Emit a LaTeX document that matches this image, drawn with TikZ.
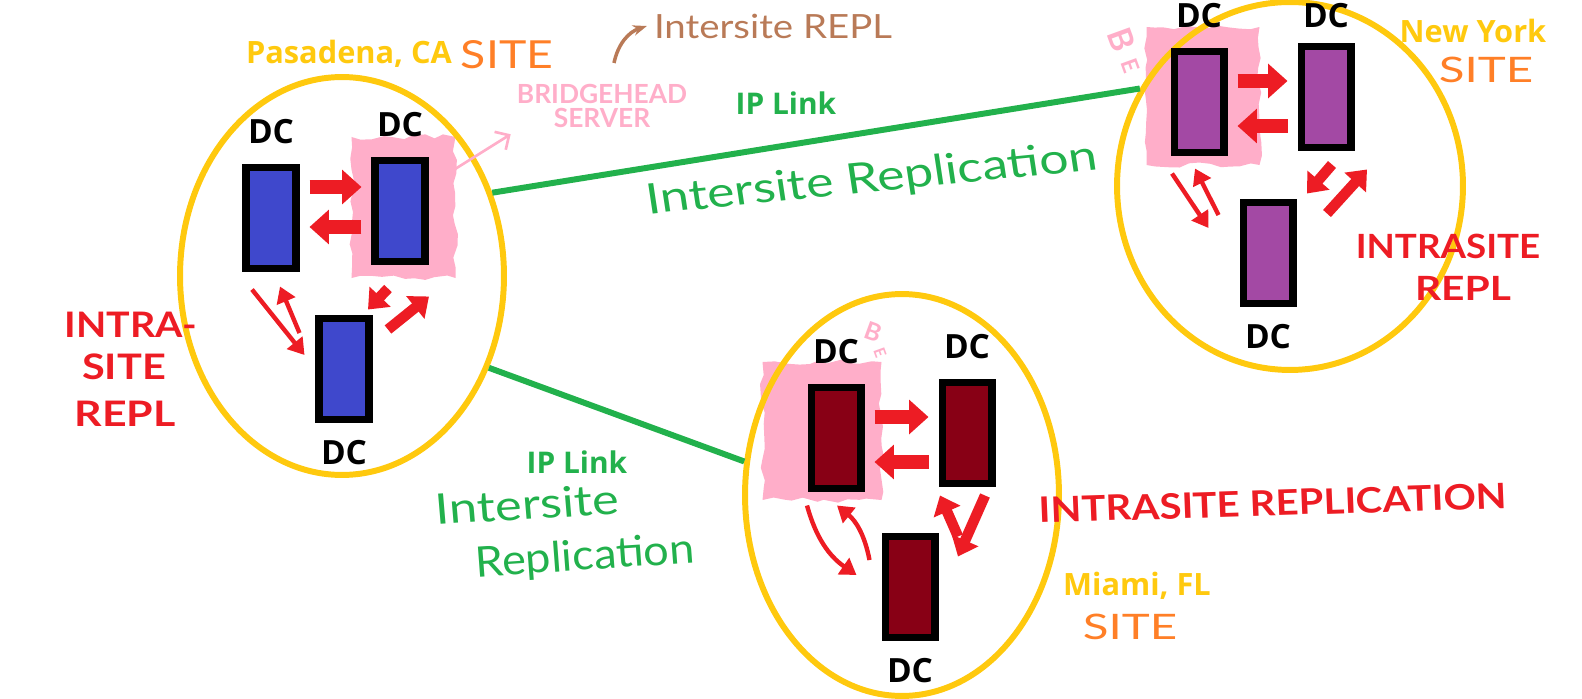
\documentclass[tikz,border=0pt]{standalone}
\usepackage{fontspec}
\setmainfont{Open Sans}
\newfontfamily\handfont{Lato}
\usetikzlibrary{positioning,arrows.meta,shapes.geometric,decorations.pathmorphing,backgrounds}
\definecolor{SiteGold}{RGB}{255,201,14}
\definecolor{SiteOrange}{RGB}{255,127,39}
\definecolor{ReplRed}{RGB}{237,28,36}
\definecolor{LinkGreen}{RGB}{34,177,76}
\definecolor{HeadPink}{RGB}{255,174,201}
\definecolor{NoteBrown}{RGB}{185,122,87}
\definecolor{DcBlue}{RGB}{63,72,204}
\definecolor{DcPurple}{RGB}{163,73,164}
\definecolor{DcMaroon}{RGB}{136,0,21}

\tikzset{
  site/.style={draw=SiteGold, line width=3.4pt, ellipse, inner sep=0pt},
  dcbox/.style={draw=black, line width=4pt, fill=#1, minimum width=1cm, minimum height=2.02cm, inner sep=0pt},
  dclabel/.style={font=\bfseries\fontsize{19}{20}\selectfont, inner sep=0pt},
  sitename/.style={text=SiteGold, font=\bfseries\fontsize{17.5}{19}\selectfont},
  linklabel/.style={text=LinkGreen, font=\bfseries\fontsize{17}{19}\selectfont},
  hand/.style={font=\handfont\fontsize{#1}{#1}\selectfont},
  handbold/.style={font=\handfont\bfseries\fontsize{#1}{#1}\selectfont},
  blob/.style={decorate, decoration={random steps, segment length=6pt, amplitude=1.5pt}},
  hfat/.style={ReplRed, line width=8pt, -{Triangle[length=11pt,width=19pt]}, shorten <=0.2cm, shorten >=0.2cm},
  dfat/.style={ReplRed, line width=6pt, -{Triangle[length=10pt,width=16pt]}},
  dthin/.style={ReplRed, line width=2.5pt, -{Triangle[length=9pt,width=11pt]}},
  iplink/.style={LinkGreen, line width=3.4pt}
}

\begin{document}
\begin{tikzpicture}[x=0.02cm, y=-0.02cm, node distance=0.4cm, every node/.style={align=center}]
  \useasboundingbox (0,0) rectangle (1582,699);
  \pgfmathsetseed{7}

  % the three sites
  \node[site, minimum width=6.48cm, minimum height=7.96cm] (pas) at (342,276) {};
  \node[site, minimum width=6.92cm, minimum height=7.36cm] (ny) at (1290,186) {};
  \node[site, minimum width=6.28cm, minimum height=8.04cm] (mia) at (902,495) {};

  % domain controllers
  \node[dcbox=DcBlue] (pa1) at (271,218) {};
  \node[dcbox=DcBlue] (pa2) at (400,211) {};
  \node[dcbox=DcBlue] (pa3) at (344,369) {};
  \node[dcbox=DcPurple] (ny1) at (1199,102) {};
  \node[dcbox=DcPurple] (ny2) at (1326,97) {};
  \node[dcbox=DcPurple] (ny3) at (1268,253) {};
  \node[dcbox=DcMaroon] (mi1) at (836,438) {};
  \node[dcbox=DcMaroon] (mi2) at (967,433) {};
  \node[dcbox=DcMaroon] (mi3) at (910,587) {};

  \node[dclabel, above=of pa1] (pa1l) {DC};
  \node[dclabel, above=of pa2] (pa2l) {DC};
  \node[dclabel, below=0.34cm of pa3] (pa3l) {DC};
  \node[dclabel, above=of ny1] (ny1l) {DC};
  \node[dclabel, above=0.3cm of ny2] (ny2l) {DC};
  \node[dclabel, below=0.34cm of ny3] (ny3l) {DC};
  \node[dclabel, above=of mi1] (mi1l) {DC};
  \node[dclabel, above=of mi2] (mi2l) {DC};
  \node[dclabel, below=0.34cm of mi3] (mi3l) {DC};

  % bridgehead marks
  \begin{scope}[on background layer]
    \fill[HeadPink, blob] ([shift={(-.4cm,.4cm)}]pa2.north west) rectangle ([shift={(.54cm,-.26cm)}]pa2.south east);
    \fill[HeadPink, blob] ([shift={(-.48cm,.42cm)}]ny1.north west) rectangle ([shift={(.64cm,-.18cm)}]ny1.south east);
    \fill[HeadPink, blob] ([shift={(-.9cm,.44cm)}]mi1.north west) rectangle ([shift={(.34cm,-.16cm)}]mi1.south east);
  \end{scope}

  % intrasite replication
  \draw[hfat] ([yshift=.62cm]pa1.east) -- ([yshift=.62cm]pa1.east -| pa2.west);
  \draw[hfat] ([yshift=-.18cm]pa1.east -| pa2.west) -- ([yshift=-.18cm]pa1.east);
  \draw[dthin] ([xshift=-.38cm,yshift=-.35cm]pa1.south) -- ([xshift=-.22cm,yshift=.28cm]pa3.west);
  \draw[dthin] ([xshift=-.32cm,yshift=.72cm]pa3.west) -- ([xshift=.18cm,yshift=-.29cm]pa1.south);
  \draw[dfat] ([xshift=-.24cm,yshift=-.47cm]pa2.south) -- ([xshift=.48cm,yshift=.11cm]pa3.north);
  \draw[dfat] ([xshift=.88cm,yshift=-.29cm]pa3.north) -- ([xshift=.58cm,yshift=-.63cm]pa2.south);

  \draw[hfat] ([yshift=.42cm]ny1.east) -- ([yshift=.42cm]ny1.east -| ny2.west);
  \draw[hfat] ([yshift=-.48cm]ny1.east -| ny2.west) -- ([yshift=-.48cm]ny1.east);
  \draw[dthin] ([xshift=-.54cm,yshift=-.35cm]ny1.south) -- ([xshift=-.62cm,yshift=.5cm]ny3.west);
  \draw[dthin] ([xshift=-.42cm,yshift=.76cm]ny3.west) -- ([xshift=-.08cm,yshift=-.25cm]ny1.south);
  \draw[dfat] ([xshift=.12cm,yshift=-.27cm]ny2.south) -- ([xshift=.78cm,yshift=.11cm]ny3.north);
  \draw[dfat] ([xshift=1.18cm,yshift=-.29cm]ny3.north) -- ([xshift=.82cm,yshift=-.37cm]ny2.south);

  \draw[hfat] ([yshift=.42cm]mi1.east) -- ([yshift=.42cm]mi1.east -| mi2.west);
  \draw[hfat] ([yshift=-.48cm]mi1.east -| mi2.west) -- ([yshift=-.48cm]mi1.east);
  \draw[dthin] ([xshift=-.58cm,yshift=-.27cm]mi1.south) to[bend right=20] ([xshift=-.5cm,yshift=.24cm]mi3.west);
  \draw[dthin] ([xshift=-.24cm,yshift=.54cm]mi3.west) to[bend right=20] ([xshift=.02cm,yshift=-.27cm]mi1.south);
  \draw[dfat] ([xshift=.96cm,yshift=-.07cm]mi3.north) -- ([xshift=-.54cm,yshift=-.17cm]mi2.south);
  \draw[dfat] ([xshift=.36cm,yshift=-.17cm]mi2.south) -- ([xshift=.96cm,yshift=-.47cm]mi3.north);

  % intersite links
  \draw[iplink] (pas.29) -- (ny.147);
  \draw[iplink] (pas.-32) -- (mia.168);
  \node[linklabel] (link1) at (786,103) {IP Link};
  \node[linklabel] (link2) at (577,462) {IP Link};

  % site names
  \node[sitename] (pasname) at (349,54) {Pasadena, CA};
  \node[hand=22, text=SiteOrange, xscale=1.2] (passite) at (507,55) {SITE};
  \node[sitename] (nyname) at (1473,31) {New York};
  \node[hand=20, text=SiteOrange, xscale=1.35] (nysite) at (1486,70) {SITE};
  \node[sitename] (mianame) at (1137,586) {Miami, FL};
  \node[hand=20, text=SiteOrange, xscale=1.35] (miasite) at (1130,627) {SITE};

  % notes
  \node[hand=19, text=NoteBrown, xscale=1.15] (irepl) at (773,26) {Intersite REPL};
  \coordinate (brtail) at (614,63);
  \draw[NoteBrown, line width=2pt, -{Stealth[length=8pt]}] (brtail) to[bend left=30] (irepl.west);
  \node[text=HeadPink, font=\handfont\bfseries\fontsize{15}{14}\selectfont] (bh) at (602,106) {BRIDGEHEAD\\SERVER};
  \draw[HeadPink, line width=1.5pt, -{Straight Barb[length=6pt]}] ([xshift=.18cm,yshift=.62cm]pa2.east) -- (bh.south west);
  \node[handbold=19, text=HeadPink, rotate=-70, inner sep=1pt] (nyb) at (1122,40) {B};
  \node[handbold=13, text=HeadPink, rotate=-70, inner sep=1pt] (nye) at (1130,66) {E};
  \node[handbold=14, text=HeadPink, rotate=-20, inner sep=1pt] (mib) at (873,332) {B};
  \node[handbold=9, text=HeadPink, rotate=-70, inner sep=1pt] (mie) at (880,353) {E};

  \node[hand=24, text=LinkGreen, xscale=1.23, rotate=7] (irep1) at (872,180) {Intersite Replication};
  \node[hand=24, text=LinkGreen, xscale=1.2, rotate=4, inner sep=1pt] (irep2a) at (527,504) {Intersite};
  \node[hand=24, text=LinkGreen, xscale=1.07, rotate=4, inner sep=1pt] (irep2b) at (585,558) {Replication};

  \node[handbold=20, text=ReplRed, xscale=1.12] (intra1) at (131,325) {INTRA-};
  \node[handbold=20, text=ReplRed, xscale=1.18] (intra2) at (124,367) {SITE};
  \node[handbold=20, text=ReplRed, xscale=1.22] (intra3) at (125,414) {REPL};
  \node[handbold=19, text=ReplRed, xscale=1.1] (nyintra1) at (1448,246) {INTRASITE};
  \node[handbold=19, text=ReplRed, xscale=1.22] (nyintra2) at (1463,288) {REPL};
  \node[handbold=20, text=ReplRed, xscale=1.14, rotate=2] (miintra) at (1273,503) {INTRASITE REPLICATION};
\end{tikzpicture}
\end{document}
